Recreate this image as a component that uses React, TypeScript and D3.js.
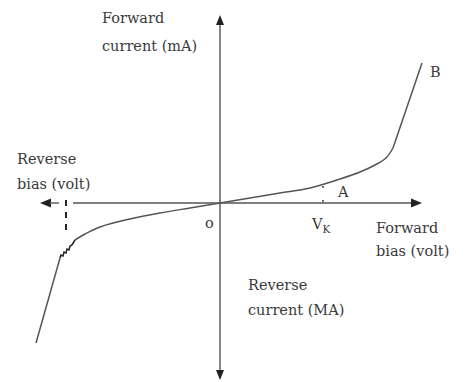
import React from "react";
import * as d3 from "d3";

// Diode V-I characteristic (arbitrary units)
const reverseBreakdown: [number, number][] = [
  [-9.2, -7.0],
  [-8.0, -2.75],
];
const zigzag: [number, number][] = [
  [-8.0, -2.75],
  [-7.95, -2.6],
  [-7.85, -2.65],
  [-7.8, -2.45],
  [-7.7, -2.5],
  [-7.65, -2.3],
  [-7.55, -2.35],
  [-7.5, -2.15],
  [-7.4, -2.1],
  [-7.25, -1.85],
];
const mainCurve: [number, number][] = [
  [-7.25, -1.85],
  [-6.75, -1.55],
  [-6.0, -1.2],
  [-4.5, -0.8],
  [-3.0, -0.5],
  [-1.5, -0.25],
  [0, 0],
  [1.5, 0.25],
  [3.0, 0.5],
  [4.5, 0.75],
  [6.0, 1.2],
  [7.0, 1.55],
  [7.75, 1.9],
  [8.3, 2.25],
  [8.65, 2.75],
];
const forwardSteep: [number, number][] = [
  [8.65, 2.75],
  [10.1, 7.0],
];
const kneeVoltage = 5.15;
const breakdownVoltage = -7.7;
const axisX = { left: -9.0, right: 10.1 };
const axisY = { bottom: -8.85, top: 9.4 };

const labels = [
  { lines: ["Forward", "current (mA)"], x: -5.9, y: 9.0, dy: 28 },
  { lines: ["Reverse", "bias (volt)"], x: -10.15, y: 1.95, dy: 25 },
  { lines: ["Forward", "bias (volt)"], x: 7.8, y: -1.5, dy: 23 },
  { lines: ["Reverse", "current (MA)"], x: 1.4, y: -4.35, dy: 25 },
];

export default function App() {
  const W = 469;
  const H = 382;
  const x = d3.scaleLinear().domain([-10, 10]).range([20, 420]);
  const y = d3.scaleLinear().domain([-10, 10]).range([403, 3]);
  const straight = d3.line<[number, number]>().x((d) => x(d[0])).y((d) => y(d[1]));
  const smooth = d3
    .line<[number, number]>()
    .x((d) => x(d[0]))
    .y((d) => y(d[1]))
    .curve(d3.curveCatmullRom.alpha(0.5));

  const stroke = "#555";
  const textColor = "#3a3a3a";
  const font = "'DejaVu Serif', serif";
  const fs = 14.5;

  // knee tick: curve y at knee voltage
  const kneeY = 0.85;

  const ox = x(0);
  const oy = y(0);

  return (
    <svg
      width={W}
      height={H}
      style={{ position: "absolute", left: 0, top: 0, background: "#fff" }}
    >
      {/* vertical axis */}
      <line x1={ox} x2={ox} y1={y(axisY.top) + 8} y2={y(axisY.bottom) - 8} stroke={stroke} strokeWidth={1.4} />
      <path
        d={`M${ox},${y(axisY.top)} L${ox - 4},${y(axisY.top) + 10} L${ox + 4},${y(axisY.top) + 10} Z`}
        fill="#222"
      />
      <path
        d={`M${ox},${y(axisY.bottom)} L${ox - 4},${y(axisY.bottom) - 10} L${ox + 4},${y(axisY.bottom) - 10} Z`}
        fill="#222"
      />
      {/* horizontal axis */}
      <line x1={x(breakdownVoltage) + 7} x2={x(axisX.right) - 8} y1={oy} y2={oy} stroke={stroke} strokeWidth={1.4} />
      <path
        d={`M${x(axisX.right)},${oy} L${x(axisX.right) - 11},${oy - 4.5} L${x(axisX.right) - 11},${oy + 4.5} Z`}
        fill="#222"
      />
      <path
        d={`M${x(axisX.left)},${oy} L${x(axisX.left) + 11},${oy - 4.5} L${x(axisX.left) + 11},${oy + 4.5} Z`}
        fill="#222"
      />
      <line x1={x(axisX.left) + 10} x2={x(breakdownVoltage) - 7} y1={oy} y2={oy} stroke={stroke} strokeWidth={1.4} />
      {/* breakdown dashed line */}
      <line
        x1={x(breakdownVoltage)}
        x2={x(breakdownVoltage)}
        y1={y(0.15)}
        y2={y(-1.5)}
        stroke="#222"
        strokeWidth={2}
        strokeDasharray="6,6"
      />
      {/* knee dotted line */}
      <line
        x1={x(kneeVoltage)}
        x2={x(kneeVoltage)}
        y1={y(kneeY)}
        y2={oy}
        stroke="#444"
        strokeWidth={1.5}
        strokeDasharray="2,12"
      />
      {/* characteristic curve */}
      <path d={straight(reverseBreakdown) || ""} fill="none" stroke={stroke} strokeWidth={1.5} />
      <path d={straight(zigzag) || ""} fill="none" stroke="#222" strokeWidth={1.5} />
      <path d={smooth(mainCurve) || ""} fill="none" stroke={stroke} strokeWidth={1.5} />
      <path d={straight(forwardSteep) || ""} fill="none" stroke={stroke} strokeWidth={1.5} />

      {/* labels */}
      <g fontFamily={font} fontSize={fs} fill={textColor}>
        {labels.map((l, i) => (
          <text key={i} x={x(l.x)} y={y(l.y)}>
            {l.lines.map((s, j) => (
              <tspan key={j} x={x(l.x)} dy={j === 0 ? 0 : l.dy}>
                {s}
              </tspan>
            ))}
          </text>
        ))}
        <text x={ox - 15} y={oy + 25}>o</text>
        <text x={x(kneeVoltage) - 11} y={oy + 26}>
          V
          <tspan fontSize={10.5} dy={4}>K</tspan>
        </text>
        <text x={x(kneeVoltage) + 15} y={oy - 6}>A</text>
        <text x={x(forwardSteep[1][0]) + 8} y={y(forwardSteep[1][1]) + 14}>B</text>
      </g>
    </svg>
  );
}
